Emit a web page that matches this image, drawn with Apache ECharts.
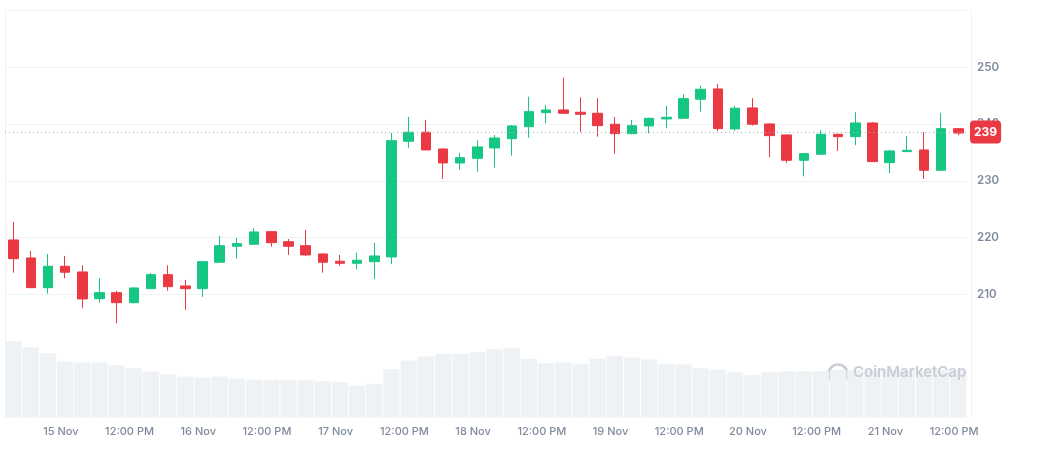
<!DOCTYPE html>
<html>
<head>
<meta charset="utf-8">
<script src="https://cdn.jsdelivr.net/npm/echarts@6/dist/echarts.min.js"></script>
<style>
html,body{margin:0;padding:0;background:#fff;}
#chart{width:1038px;height:455px;}
</style>
</head>
<body>
<div id="chart"></div>
<script>
// candle times (3-hour candles)
const times = [
 '14 Nov 15:45','14 Nov 18:45','14 Nov 21:45',
 '15 Nov 00:45','15 Nov 03:45','15 Nov 06:45','15 Nov 09:45','15 Nov 12:45','15 Nov 15:45','15 Nov 18:45','15 Nov 21:45',
 '16 Nov 00:45','16 Nov 03:45','16 Nov 06:45','16 Nov 09:45','16 Nov 12:45','16 Nov 15:45','16 Nov 18:45','16 Nov 21:45',
 '17 Nov 00:45','17 Nov 03:45','17 Nov 06:45','17 Nov 09:45','17 Nov 12:45','17 Nov 15:45','17 Nov 18:45','17 Nov 21:45',
 '18 Nov 00:45','18 Nov 03:45','18 Nov 06:45','18 Nov 09:45','18 Nov 12:45','18 Nov 15:45','18 Nov 18:45','18 Nov 21:45',
 '19 Nov 00:45','19 Nov 03:45','19 Nov 06:45','19 Nov 09:45','19 Nov 12:45','19 Nov 15:45','19 Nov 18:45','19 Nov 21:45',
 '20 Nov 00:45','20 Nov 03:45','20 Nov 06:45','20 Nov 09:45','20 Nov 12:45','20 Nov 15:45','20 Nov 18:45','20 Nov 21:45',
 '21 Nov 00:45','21 Nov 03:45','21 Nov 06:45','21 Nov 09:45','21 Nov 12:45'
];
// [open, close, low, high]
const ohlc = [
 [219.57,216.27,213.81,222.74],[216.40,211.16,211.10,217.63],[211.16,214.93,210.11,217.10],[214.93,213.88,212.82,216.75],
 [213.93,209.17,207.53,215.11],[209.22,210.28,208.52,212.82],[210.28,208.52,204.89,210.63],[208.52,211.11,208.40,211.20],
 [210.99,213.45,210.90,213.75],[213.45,211.34,210.63,215.11],[211.46,210.99,207.23,212.52],[210.99,215.74,209.52,215.80],
 [215.64,218.56,215.50,220.27],[218.46,218.92,216.27,219.92],[218.81,220.98,218.70,221.68],[221.03,219.09,218.39,221.10],
 [219.27,218.46,216.93,219.74],[218.56,216.93,216.80,221.33],[217.10,215.64,213.81,217.20],[215.81,215.46,215.04,216.93],
 [215.46,215.99,214.41,217.33],[215.74,216.75,212.70,219.09],[216.57,237.07,215.29,238.42],[236.96,238.55,235.78,241.24],
 [238.55,235.43,235.40,240.71],[235.60,233.14,230.32,235.70],[233.14,234.07,231.96,234.90],[233.96,235.96,231.60,237.14],
 [235.78,237.54,232.31,238.07],[237.42,239.66,234.42,239.83],[239.53,242.18,237.59,244.82],[242.00,242.48,240.13,243.36],
 [242.48,241.89,241.80,248.17],[242.07,241.72,238.55,244.71],[241.89,239.71,237.77,244.54],[239.96,238.30,234.78,241.24],
 [238.30,239.71,238.20,240.71],[239.66,241.01,238.37,241.10],[240.89,241.19,239.25,243.18],[241.01,244.47,240.90,245.24],
 [244.36,246.12,242.18,246.76],[246.18,239.18,238.78,247.06],[239.13,242.78,238.78,243.18],[242.83,239.96,239.71,244.54],
 [240.01,237.95,234.14,240.10],[238.07,233.61,233.14,238.10],[233.61,234.78,230.79,234.90],[234.67,238.19,234.60,238.95],
 [238.19,237.77,235.25,238.25],[237.77,240.18,236.26,242.07],[240.18,233.37,233.30,240.31],[233.19,235.25,231.32,235.40],
 [235.13,235.37,235.10,237.89],[235.43,231.85,230.32,238.55],[231.85,239.18,231.80,241.95],[239.18,238.40,238.02,239.20]
];
// volume (arbitrary units)
const volumes = [
 76.3,70.3,64.3,56,55,55,52.3,49.3,46,43,41,40,41,39,38,37.3,37.3,37.3,36.3,35.3,32,33.7,48.3,57,
 61,63.7,63.7,65.3,68.3,69.3,58.7,54.2,54.9,53.8,58.7,61.8,60.0,58.0,53.8,53.1,49.3,48.0,45.2,42.4,
 45.2,46.2,46.2,46.2,47.5,47.5,47.5,47.5,47.5,47.5,47.5,47.5
];
// x tick positions in hours since 14 Nov 00:00, and their labels
const tickHours = [24,36,48,60,72,84,96,108,120,132,144,156,168,180];
const tickLabels = ['15 Nov','12:00 PM','16 Nov','12:00 PM','17 Nov','12:00 PM','18 Nov','12:00 PM','19 Nov','12:00 PM','20 Nov','12:00 PM','21 Nov','12:00 PM'];
const priceTicks = [210,220,230,240,250];
const currentPrice = 238.6;

const UP = '#16c784', DOWN = '#ea3943', GRID = '#eff2f5', TXT = '#808a9d';

const chart = echarts.init(document.getElementById('chart'));
const hiddenCat = (g) => ({type:'category', gridIndex:g, position:'bottom', data:times, boundaryGap:true,
  axisLine:{show:false}, axisTick:{show:false}, axisLabel:{show:false}, splitLine:{show:false}});
const borderAxis = (g, pos, off) => ({type:'value', gridIndex:g, position:pos, offset:off, min:0, max:1,
  axisLine:{show:true, lineStyle:{color:GRID, width:1}}, axisTick:{show:false}, axisLabel:{show:false}, splitLine:{show:false}});

chart.setOption({
  animation:false,
  textStyle:{fontFamily:'Inter, sans-serif'},
  grid:[
    {left:5, right:71, top:10.5, height:340.5},
    {left:5, right:71, top:330, height:87.5}
  ],
  xAxis:[
    hiddenCat(0),
    hiddenCat(1),
    {type:'value', gridIndex:1, position:'bottom', min:14.25, max:182.25,
     axisLine:{show:false}, axisTick:{show:false}, splitLine:{show:false},
     axisLabel:{customValues:tickHours, color:TXT, fontSize:11, fontWeight:500, margin:9,
       formatter:(v)=>{const i=tickHours.indexOf(v); return i>=0?tickLabels[i]:'';}}}
  ],
  yAxis:[
    {type:'value', gridIndex:0, position:'right', offset:4, min:200, max:260, interval:10,
     axisLine:{show:true, lineStyle:{color:GRID}}, axisTick:{show:false},
     axisLabel:{color:TXT, fontSize:11.5, fontWeight:600, margin:6,
       formatter:(v)=> priceTicks.indexOf(v)>=0 ? String(v) : ''},
     splitLine:{show:true, lineStyle:{color:['rgba(0,0,0,0)',GRID,GRID,GRID,GRID,GRID,GRID], width:1}}},
    borderAxis(0,'left',0),
    {type:'value', gridIndex:1, position:'left', min:0, max:87.5,
     axisLine:{show:true, lineStyle:{color:GRID}}, axisTick:{show:false}, axisLabel:{show:false}, splitLine:{show:false}},
    borderAxis(1,'right',4)
  ],
  graphic:[
    {type:'group', left:826, top:362, silent:true, z:100, children:[
      {type:'circle', shape:{cx:11, cy:11, r:9.5}, style:{fill:'none', stroke:'#c9ced6', lineWidth:2.6}},
      {type:'polyline', shape:{points:[[5,15],[8.5,8],[11,13.5],[13.5,8],[17,15.5]]}, style:{fill:'none', stroke:'#c9ced6', lineWidth:2.4, lineJoin:'round', lineCap:'round'}}
    ]},
    {type:'text', left:853, top:365, silent:true, z:100,
     style:{text:'CoinMarketCap', fill:'#c9ced6', font:'600 15px Inter, sans-serif'}}
  ],
  series:[
    {type:'bar', xAxisIndex:1, yAxisIndex:2, data:volumes, barWidth:'95%',
     itemStyle:{color:GRID}, silent:true},
    {type:'candlestick', xAxisIndex:0, yAxisIndex:0, data:ohlc, barWidth:10,
     itemStyle:{color:UP, color0:DOWN, borderColor:UP, borderColor0:DOWN, borderWidth:1},
     markLine:{silent:true, symbol:['none','none'],
       data:[{yAxis:currentPrice}],
       lineStyle:{color:'#a6b0c3', type:[1,3], width:1},
       label:{position:'end', distance:3, formatter:()=>String(Math.round(currentPrice)),
         color:'#fff', backgroundColor:DOWN, fontWeight:'bold', fontSize:12,
         padding:[4,4,4,4], lineHeight:15, borderRadius:4}}}
  ]
});
</script>
</body>
</html>
